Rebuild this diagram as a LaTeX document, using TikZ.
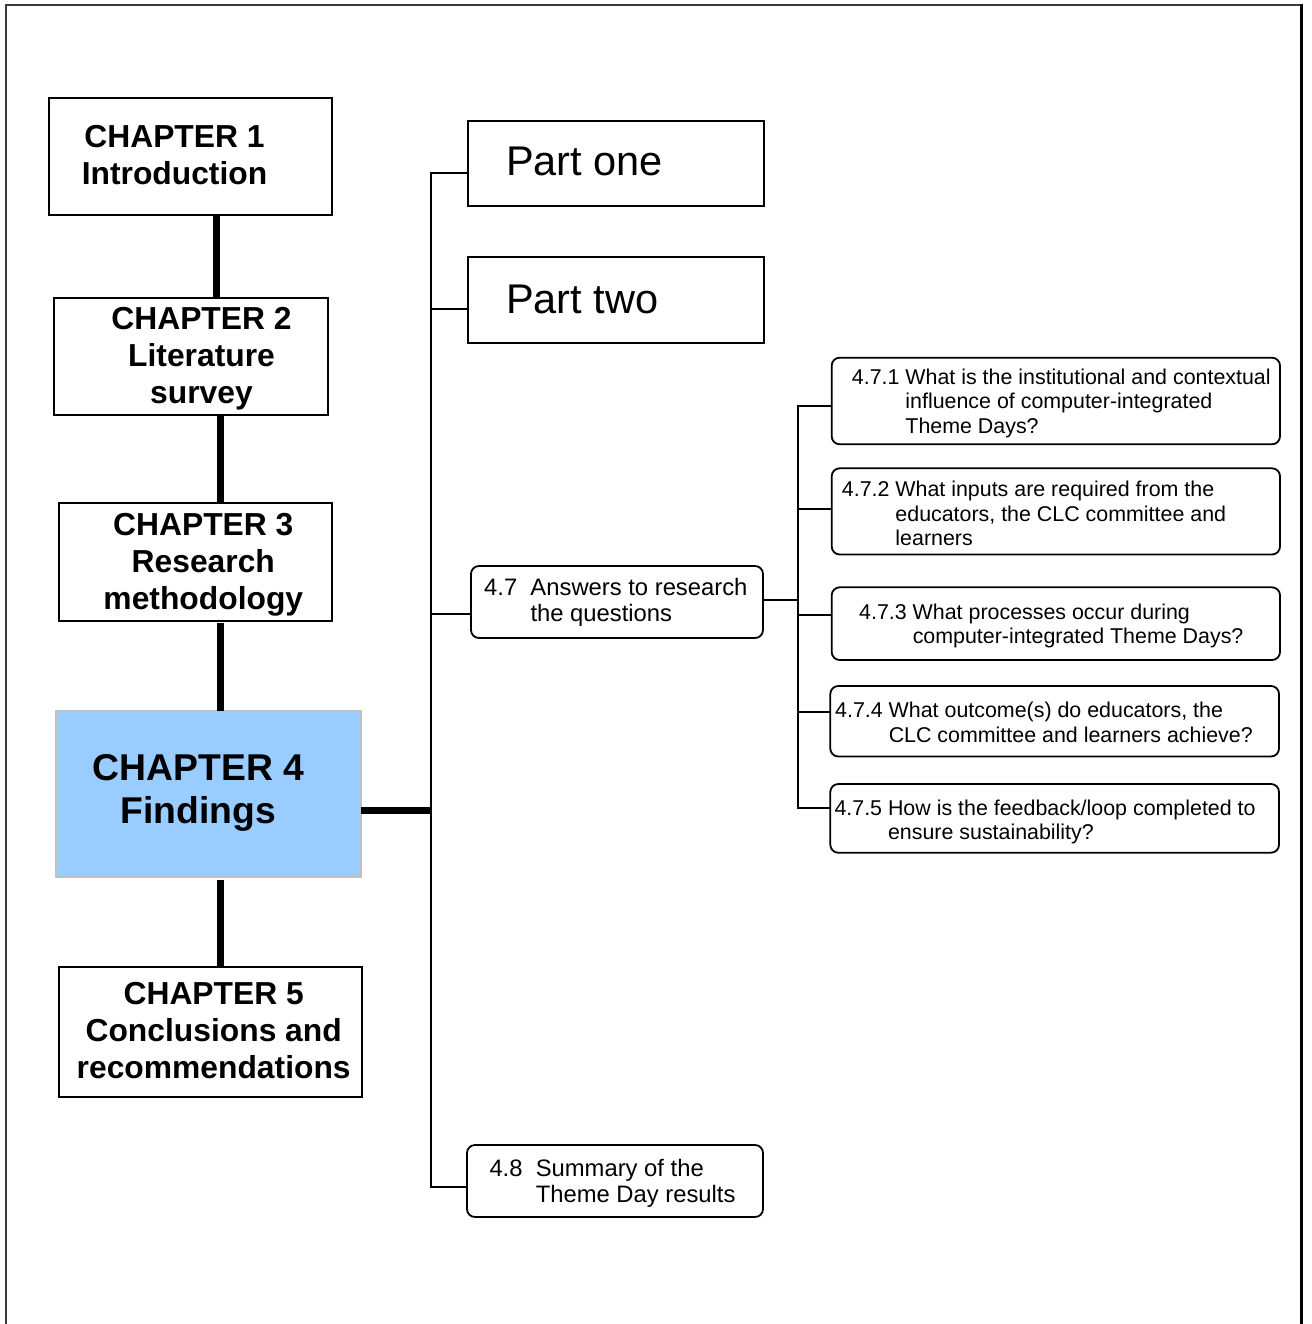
\documentclass[tikz,border=0pt]{standalone}
\usepackage{fontspec}
\setmainfont{Liberation Sans}
\definecolor{findblue}{RGB}{153,204,255}
\definecolor{findedge}{RGB}{192,192,192}
\definecolor{framegray}{RGB}{60,60,60}
\tikzset{
  boxbase/.style={rectangle, inner sep=0pt, outer sep=0pt, anchor=north west},
  chapbox/.style={boxbase, draw=black, line width=2pt},
  focusbox/.style={boxbase, draw=findedge, line width=2pt, fill=findblue},
  partbox/.style={boxbase, draw=black, line width=2pt},
  roundbox/.style={boxbase, draw=black, line width=1.8pt, rounded corners=8pt},
  chaptext/.style={inner sep=0pt, anchor=base, font=\fontsize{31.8}{37}\selectfont\bfseries},
  bigchaptext/.style={inner sep=0pt, anchor=base, font=\fontsize{37.3}{43.3}\selectfont\bfseries},
  parttext/.style={inner sep=0pt, anchor=base west, font=\fontsize{41.5}{48}\selectfont},
  secttext/.style={inner sep=0pt, anchor=base west, font=\fontsize{23.8}{26.6}\selectfont},
  qtext/.style={inner sep=0pt, anchor=base west, font=\fontsize{21.4}{24.6}\selectfont},
  spine/.style={line width=7pt, line cap=butt},
  branch/.style={line width=2pt},
}
\begin{document}
\begin{tikzpicture}[x=1pt, y=-1pt]
\useasboundingbox (0,0) rectangle (1311,1324);

% page frame, open at the bottom
\draw[line width=2pt, framegray] (6,1324) -- (6,5) -- (1301.7,5);
\draw[line width=3pt, black] (1301.7,4) -- (1301.7,1324);

% chapter column
\node[chapbox, minimum width=283pt, minimum height=117pt] (c1) at (49,98) {};
\node[chapbox, minimum width=274pt, minimum height=117pt] (c2) at (54,298) {};
\node[chapbox, minimum width=273.5pt, minimum height=118pt] (c3) at (58.5,503) {};
\node[focusbox, minimum width=305pt, minimum height=166pt] (c4) at (55.5,711) {};
\node[chapbox, minimum width=303pt, minimum height=129.5pt] (c5) at (59,967) {};

\node[chaptext] (c1t) at (174.5,147.7) {\begin{tabular}[t]{@{}c@{}}CHAPTER 1\\Introduction\end{tabular}};
\node[chaptext] (c2t) at (201.5,329.3) {\begin{tabular}[t]{@{}c@{}}CHAPTER 2\\Literature\\survey\end{tabular}};
\node[chaptext] (c3t) at (203.3,535.7) {\begin{tabular}[t]{@{}c@{}}CHAPTER 3\\Research\\methodology\end{tabular}};
\node[bigchaptext] (c4t) at (198.4,780) {\begin{tabular}[t]{@{}c@{}}CHAPTER 4\\Findings\end{tabular}};
\node[chaptext] (c5t) at (213.7,1004) {\begin{tabular}[t]{@{}c@{}}CHAPTER 5\\Conclusions and\\recommendations\end{tabular}};

% thick links between chapters
\coordinate (k1) at (216.7,0);
\coordinate (k2) at (220.7,0);
\draw[spine] (c1.south -| k1) -- (c2.north -| k1);
\draw[spine] (c2.south -| k2) -- (c3.north -| k2);
\draw[spine, shorten <=2pt] (c3.south -| k2) -- (c4.north -| k2);
\draw[spine, shorten <=3pt] (c4.south -| k2) -- (c5.north -| k2);

% parts and sections of chapter 4
\node[partbox, minimum width=296pt, minimum height=85.5pt] (p1) at (468,121) {};
\node[partbox, minimum width=296pt, minimum height=86pt] (p2) at (468,257) {};
\node[roundbox, minimum width=292pt, minimum height=72pt] (s47) at (471,566) {};
\node[roundbox, minimum width=296pt, minimum height=72pt] (s48) at (467,1145) {};

\node[parttext] (p1t) at (506,176) {Part one};
\node[parttext] (p2t) at (506,313) {Part two};
\node[secttext] (s47t) at (484,595) {\begin{tabular}[t]{@{}l@{\ \ }l@{}}4.7 & Answers to research\\ & the questions\end{tabular}};
\node[secttext] (s48t) at (489.3,1176) {\begin{tabular}[t]{@{}l@{\ \ }l@{}}4.8 & Summary of the\\ & Theme Day results\end{tabular}};

% research questions
\node[roundbox, minimum width=448.3pt, minimum height=86.6pt] (q1) at (831.7,357.7) {};
\node[roundbox, minimum width=448.3pt, minimum height=86.2pt] (q2) at (831.7,468.3) {};
\node[roundbox, minimum width=448.3pt, minimum height=72.7pt] (q3) at (831.7,587.3) {};
\node[roundbox, minimum width=448.7pt, minimum height=70.5pt] (q4) at (830.3,686) {};
\node[roundbox, minimum width=448.7pt, minimum height=68.7pt] (q5) at (830.3,784) {};

\node[qtext] (q1t) at (851.7,384.3) {\begin{tabular}[t]{@{}l@{\ }l@{}}4.7.1 & What is the institutional and contextual\\ & influence of computer-integrated\\ & Theme Days?\end{tabular}};
\node[qtext] (q2t) at (841.7,496.7) {\begin{tabular}[t]{@{}l@{\ }l@{}}4.7.2 & What inputs are required from the\\ & educators, the CLC committee and\\ & learners\end{tabular}};
\node[qtext] (q3t) at (859,619) {\begin{tabular}[t]{@{}l@{\ }l@{}}4.7.3 & What processes occur during\\ & computer-integrated Theme Days?\end{tabular}};
\node[qtext] (q4t) at (835,717.7) {\begin{tabular}[t]{@{}l@{\ }l@{}}4.7.4 & What outcome(s) do educators, the\\ & CLC committee and learners achieve?\end{tabular}};
\node[qtext] (q5t) at (834.3,815) {\begin{tabular}[t]{@{}l@{\ }l@{}}4.7.5 & How is the feedback/loop completed to\\ & ensure sustainability?\end{tabular}};

% chapter 4 fans out to its parts
\coordinate (tr) at (430.7,0);
\draw[spine] ([yshift=-16pt]c4.east) -- ([yshift=-16pt]c4.east -| tr);
\draw[branch] (p1.west |- 0,173) -| (tr |- 0,1187) -- (s48.west |- 0,1187);
\draw[branch] (tr |- 0,309) -- (p2.west |- 0,309);
\draw[branch] (tr |- 0,614) -- (s47.west |- 0,614);

% section 4.7 fans out to its questions
\coordinate (qt) at (798.3,0);
\draw[branch] (s47.east |- 0,600) -- (qt |- 0,600);
\draw[branch] (q1.west |- 0,405.7) -| (qt |- 0,807.7) -- (q5.west |- 0,807.7);
\draw[branch] (qt |- 0,509.3) -- (q2.west |- 0,509.3);
\draw[branch] (qt |- 0,615) -- (q3.west |- 0,615);
\draw[branch] (qt |- 0,711.7) -- (q4.west |- 0,711.7);
\end{tikzpicture}
\end{document}
